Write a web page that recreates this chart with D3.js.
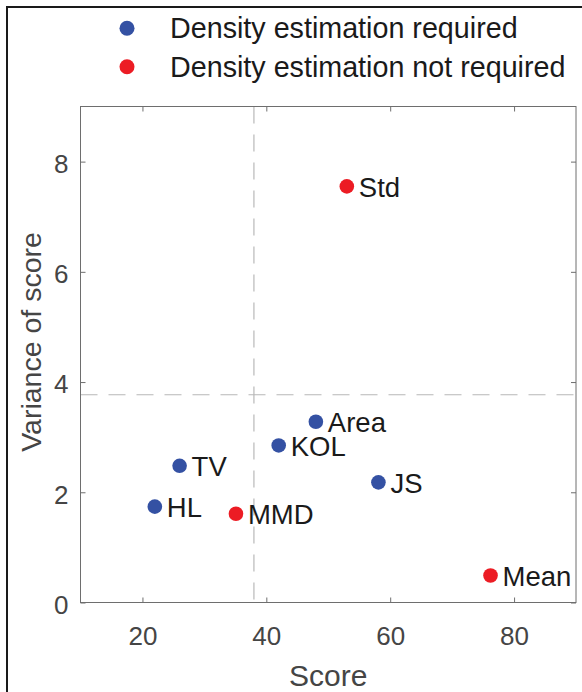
<!DOCTYPE html>
<html>
<head>
<meta charset="utf-8">
<script src="https://cdn.jsdelivr.net/npm/d3@7"></script>
<style>
  html, body { margin: 0; padding: 0; background: #fff; }
  svg { display: block; font-family: "Liberation Sans", Arial, Helvetica, sans-serif; }
</style>
</head>
<body>
<svg id="chart" width="582" height="692"></svg>
<script>
// Methods, their score and the variance of that score
const methods   = ["Std", "Mean", "MMD", "HL", "TV", "KOL", "Area", "JS"];
const scores    = [53.0, 76.2, 35.1, 22.0, 26.0, 42.0, 48.0, 58.1];
const variances = [7.55, 0.49, 1.61, 1.74, 2.48, 2.85, 3.28, 2.18];
const groups    = ["not", "not", "not", "req", "req", "req", "req", "req"];

// Legend entries
const groupKeys   = ["req", "not"];
const groupLabels = ["Density estimation required", "Density estimation not required"];
const groupColors = ["#3451a3", "#ec1c24"];

// Axis ticks and reference lines
const xTicks = [20, 40, 60, 80];
const yTicks = [0, 2, 4, 6, 8];
const xDomain = [10, 90];
const yDomain = [0, 9];
const scoreCut = 38;
const varianceCut = 3.77;

const svg = d3.select("#chart");
const box = { left: 80.5, right: 576, top: 106.5, bottom: 602.5 };

const x = d3.scaleLinear().domain(xDomain).range([box.left, box.right]);
const y = d3.scaleLinear().domain(yDomain).range([box.bottom, box.top]);
const color = d3.scaleOrdinal().domain(groupKeys).range(groupColors);

// Figure frame
svg.append("rect")
  .attr("x", 7).attr("y", 7)
  .attr("width", 640).attr("height", 720)
  .attr("fill", "none").attr("stroke", "#1a1a1a").attr("stroke-width", 2);

// Reference lines
svg.append("line")
  .attr("x1", x(scoreCut)).attr("x2", x(scoreCut))
  .attr("y1", box.top).attr("y2", box.bottom)
  .attr("stroke", "#b8b8b8").attr("stroke-width", 1.2)
  .attr("stroke-dasharray", "17,11");
svg.append("line")
  .attr("x1", box.left).attr("x2", box.right)
  .attr("y1", y(varianceCut)).attr("y2", y(varianceCut))
  .attr("stroke", "#b8b8b8").attr("stroke-width", 1.2)
  .attr("stroke-dasharray", "17,11");

// Axes (inward ticks on all four sides)
const axisColor = "#6e6e6e";
const labelColor = "#454545";
function styleAxis(g) {
  g.select(".domain").remove();
  g.selectAll(".tick line").attr("stroke", axisColor);
  g.selectAll(".tick text").attr("fill", labelColor).attr("font-size", 26)
    .attr("font-family", "\"Liberation Sans\", Arial, Helvetica, sans-serif");
}
svg.append("g").attr("transform", `translate(0,${box.bottom})`)
  .call(d3.axisBottom(x).tickValues(xTicks).tickSizeInner(-5).tickSizeOuter(0).tickPadding(24))
  .call(styleAxis);
svg.append("g").attr("transform", `translate(0,${box.top})`)
  .call(d3.axisTop(x).tickValues(xTicks).tickSizeInner(-5).tickSizeOuter(0).tickFormat(""))
  .call(styleAxis);
const yAxisG = svg.append("g").attr("transform", `translate(${box.left},0)`)
  .call(d3.axisLeft(y).tickValues(yTicks).tickSizeInner(-5).tickSizeOuter(0).tickPadding(12))
  .call(styleAxis);
yAxisG.selectAll(".tick text").attr("dy", "0.42em");
svg.append("g").attr("transform", `translate(${box.right},0)`)
  .call(d3.axisRight(y).tickValues(yTicks).tickSizeInner(-5).tickSizeOuter(0).tickFormat(""))
  .call(styleAxis);

// Axes box
svg.append("rect")
  .attr("x", box.left).attr("y", box.top)
  .attr("width", box.right - box.left).attr("height", box.bottom - box.top)
  .attr("fill", "none").attr("stroke", axisColor).attr("stroke-width", 1);

// Axis titles
svg.append("text")
  .attr("x", (box.left + box.right) / 2).attr("y", 686)
  .attr("text-anchor", "middle").attr("font-size", 30).attr("fill", labelColor)
  .text("Score");
svg.append("text")
  .attr("transform", "translate(41,342) rotate(-90)")
  .attr("text-anchor", "middle").attr("font-size", 28.5).attr("fill", labelColor)
  .text("Variance of score");

// Points and their labels
const pts = methods.map((m, i) => ({ name: m, score: scores[i], variance: variances[i], group: groups[i] }));
const pg = svg.append("g");
pg.selectAll("circle").data(pts).join("circle")
  .attr("cx", d => x(d.score)).attr("cy", d => y(d.variance))
  .attr("r", 7.3).attr("fill", d => color(d.group));
pg.selectAll("text").data(pts).join("text")
  .attr("x", d => x(d.score) + 12).attr("y", d => y(d.variance) + 10.5)
  .attr("font-size", 27.5).attr("fill", "#1a1a1a")
  .text(d => d.name);

// Legend
const lg = svg.append("g");
groupKeys.forEach((k, i) => {
  const cy = 28.3 + i * 38.4;
  lg.append("circle").attr("cx", 127).attr("cy", cy).attr("r", 7.5).attr("fill", color(k));
  lg.append("text").attr("x", 170).attr("y", cy + 10)
    .attr("font-size", 28.7).attr("fill", "#1a1a1a").text(groupLabels[i]);
});
</script>
</body>
</html>
